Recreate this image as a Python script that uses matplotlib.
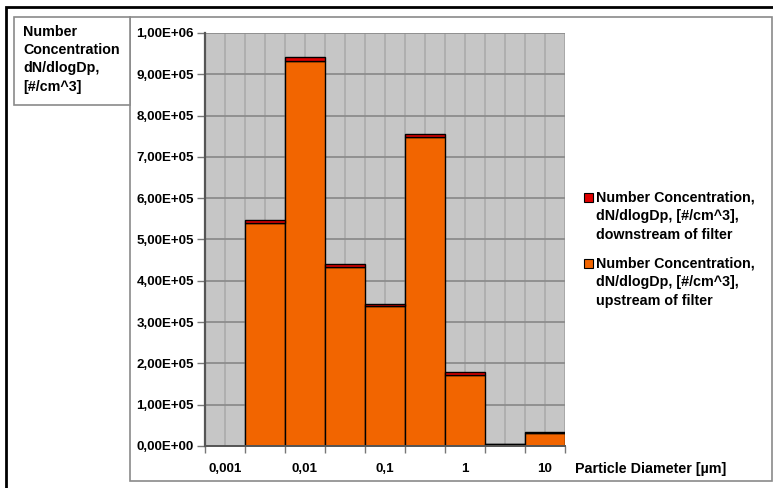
import numpy as np
import matplotlib
matplotlib.use('Agg')
import matplotlib.pyplot as plt
from matplotlib.patches import Rectangle
from matplotlib.ticker import FuncFormatter

plt.rcParams['font.family'] = ['Liberation Sans', 'DejaVu Sans']
plt.rcParams['font.weight'] = 'bold'

# size classes (one slot per bar, label on every second slot)
bins = ['0,001', '', '0,01', '', '0,1', '', '1', '', '10']
upstream = [0, 539000, 933000, 434000, 338000, 747000, 172000, 4000, 31000]
downstream = [0, 8000, 8000, 6000, 5000, 8000, 6000, 2000, 4000]

up_label = 'Number Concentration,\ndN/dlogDp, [#/cm^3],\nupstream of filter'
down_label = 'Number Concentration,\ndN/dlogDp, [#/cm^3],\ndownstream of filter'
orange = '#F26500'
red = '#E00000'

W, H = 773, 488
fig = plt.figure(figsize=(W / 100, H / 100), dpi=100)

# outer frame, chart box and label box
fig.add_artist(Rectangle((6 / W, -0.2), 1.2, (488 - 7) / H + 0.2, transform=fig.transFigure,
                         fill=False, ec='black', lw=2, zorder=-2))
fig.add_artist(Rectangle((130 / W, 7 / H), (772 - 130) / W, (481 - 17) / H, transform=fig.transFigure,
                         fill=False, ec='#8a8a8a', lw=1.2, zorder=-2))
fig.add_artist(Rectangle((14 / W, (488 - 105) / H), (130 - 14) / W, (105 - 17) / H,
                         transform=fig.transFigure, fc='white', ec='#8a8a8a', lw=1.2, zorder=-1))

ax = fig.add_axes([205 / W, (488 - 446) / H, 360 / W, 413 / H])
ax.set_facecolor('#C6C6C6')

x = np.arange(len(bins))
ax.bar(x, upstream, width=1.0, color=orange, edgecolor='black', linewidth=1, zorder=3)
ax.bar(x, downstream, width=1.0, bottom=upstream, color=red, edgecolor='black', linewidth=1, zorder=3)

ax.set_xlim(-0.5, len(bins) - 0.5)
ax.set_ylim(0, 1e6)

# grid
for v in np.arange(1e5, 1.01e6, 1e5):
    ax.axhline(v, color='#8c8c8c', lw=1.3, zorder=1)
for v in np.arange(0, len(bins), 0.5):
    ax.axvline(v, color='#a8a8a8', lw=1.1, zorder=0.5)
ax.axvline(len(bins) - 0.5, color='#a8a8a8', lw=1.1, zorder=0.5)

for s in ['top', 'right']:
    ax.spines[s].set_visible(False)
ax.spines['left'].set_color('#555555')
ax.spines['left'].set_linewidth(1.6)
ax.spines['bottom'].set_color('#555555')
ax.spines['bottom'].set_linewidth(1.4)
ax.spines['left'].set_zorder(4)
ax.spines['bottom'].set_zorder(4)

ax.set_yticks(np.arange(0, 1.01e6, 1e5))
ax.yaxis.set_major_formatter(FuncFormatter(lambda v, p: ('%.2E' % v).replace('.', ',')))
ax.tick_params(axis='y', length=6, width=1, color='#777777', pad=2, labelsize=9.6)

ax.set_xticks(np.arange(-0.5, len(bins), 1.0))
ax.set_xticklabels([''] * (len(bins) + 1))
ax.set_xticks(x, minor=True)
ax.set_xticklabels(bins, minor=True)
ax.tick_params(axis='x', which='major', length=5, width=1, color='#777777')
ax.tick_params(axis='x', which='minor', length=0, pad=12, labelsize=9.6)

ax.set_xlabel('Particle Diameter [µm]', fontsize=10.3, fontweight='bold', ha='left', va='baseline')
ax.xaxis.set_label_coords((575 - 205) / 360, (446 - 473) / 413)
ax.set_ylabel('Number\nConcentration\ndN/dlogDp,\n[#/cm^3]', fontsize=10.3, fontweight='bold',
              rotation=0, ha='left', va='top', linespacing=1.38)
ax.yaxis.set_label_coords((23 - 205) / 360, (446 - 25) / 413)

# legend drawn by hand so the swatch sits on the first text line
for i, (lab, col) in enumerate([(down_label, red), (up_label, orange)]):
    top = 191 + i * 66
    fig.add_artist(Rectangle((584 / W, (488 - top - 11) / H), 9 / W, 9 / H,
                             transform=fig.transFigure, fc=col, ec='black', lw=0.8))
    fig.text(596 / W, (488 - top) / H, lab, ha='left', va='top', fontsize=10.3,
             fontweight='bold', linespacing=1.4)

plt.savefig('out.png', dpi=100)
